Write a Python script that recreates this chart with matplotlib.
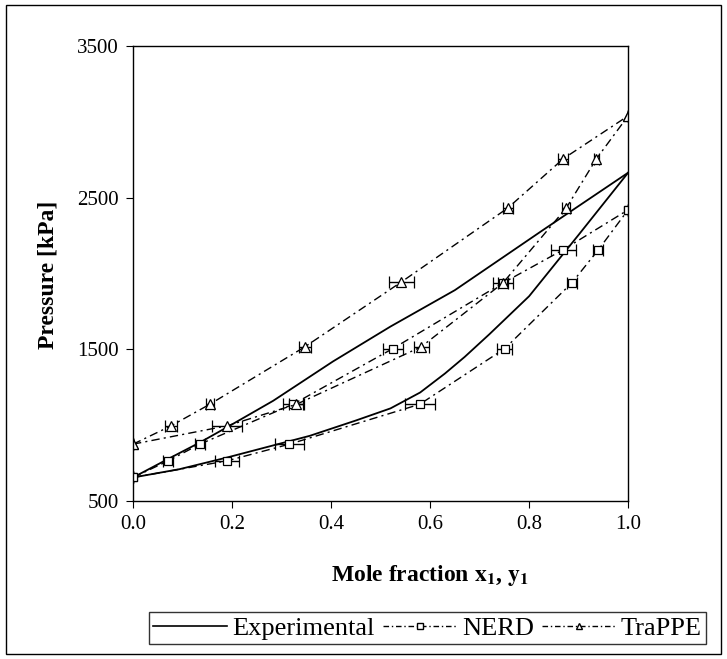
import matplotlib
matplotlib.use("Agg")
import matplotlib.pyplot as plt
from matplotlib.lines import Line2D
from matplotlib.patches import Rectangle

plt.rcParams['font.family'] = ['Liberation Serif', 'DejaVu Serif']
plt.rcParams['mathtext.fontset'] = 'stix'

# experimental phase envelope
exp_bub_x = [0.0, 0.07, 0.135, 0.195, 0.283, 0.404, 0.52, 0.65, 0.83, 1.0]
exp_bub_p = [654, 775, 885, 995, 1160, 1420, 1650, 1890, 2291, 2665]
exp_dew_x = [0.0, 0.094, 0.19, 0.357, 0.45, 0.52, 0.58, 0.63, 0.67, 0.72, 0.80, 0.90, 1.0]
exp_dew_p = [654, 709, 786, 929, 1030, 1110, 1215, 1340, 1450, 1600, 1850, 2255, 2665]

# NERD simulations
nerd_bub_x = [0.0, 0.071, 0.135, 0.323, 0.525, 0.747, 0.869, 1.0]
nerd_bub_p = [654, 764, 874, 1137, 1505, 1937, 2157, 2420]
nerd_bub_err = [0, 0.01, 0.01, 0.02, 0.02, 0.02, 0.025, 0]
nerd_dew_x = [0.0, 0.19, 0.316, 0.579, 0.751, 0.886, 0.94, 1.0]
nerd_dew_p = [654, 764, 874, 1137, 1505, 1937, 2157, 2420]
nerd_dew_err = [0, 0.025, 0.03, 0.03, 0.015, 0.01, 0.01, 0]

# TraPPE simulations
trappe_bub_x = [0.0, 0.077, 0.155, 0.347, 0.542, 0.757, 0.869, 1.0]
trappe_bub_p = [874, 995, 1137, 1516, 1944, 2432, 2757, 3040]
trappe_bub_err = [0, 0.012, 0.008, 0.012, 0.025, 0.01, 0.01, 0]
trappe_dew_x = [0.0, 0.19, 0.33, 0.582, 0.747, 0.875, 0.936, 1.0]
trappe_dew_p = [874, 995, 1137, 1516, 1937, 2432, 2757, 3040]
trappe_dew_err = [0, 0.03, 0.015, 0.015, 0.01, 0.008, 0.005, 0]

dd = (6, 3, 1.5, 3)

fig = plt.figure(figsize=(7.27, 6.59), dpi=100)
ax = fig.add_axes([0.183, 0.240, 0.681, 0.690])

ax.plot(exp_bub_x, exp_bub_p, color='k', lw=1.3)
ax.plot(exp_dew_x, exp_dew_p, color='k', lw=1.3)

for x, p, e in [(nerd_bub_x, nerd_bub_p, nerd_bub_err), (nerd_dew_x, nerd_dew_p, nerd_dew_err)]:
    ax.errorbar(x, p, xerr=e, color='k', lw=1, dashes=dd, marker='s', ms=6,
                mfc='white', mec='k', mew=0.9, ecolor='k', elinewidth=1, capsize=4)
for x, p, e in [(trappe_bub_x, trappe_bub_p, trappe_bub_err), (trappe_dew_x, trappe_dew_p, trappe_dew_err)]:
    ax.errorbar(x, p, xerr=e, color='k', lw=1, dashes=dd, marker='^', ms=7,
                mfc='white', mec='k', mew=0.9, ecolor='k', elinewidth=1, capsize=4)

ax.set_xlim(0, 1)
ax.set_ylim(500, 3500)
ax.set_xticks([0, 0.2, 0.4, 0.6, 0.8, 1.0])
ax.set_xticklabels(['0.0', '0.2', '0.4', '0.6', '0.8', '1.0'])
ax.set_yticks([500, 1500, 2500, 3500])
ax.tick_params(axis='both', labelsize=15, direction='out', length=5, pad=5)
for s in ax.spines.values():
    s.set_linewidth(1)

fig.text(0.066, 0.583, 'Pressure [kPa]', rotation=90, ha='center', va='center',
         fontsize=17, fontweight='bold')
fig.text(0.591, 0.127, 'Mole fraction $\\mathbf{x_1}$, $\\mathbf{y_1}$', ha='center', va='center',
         fontsize=17, fontweight='bold')

handles = [
    Line2D([], [], color='k', lw=1.2),
    Line2D([], [], color='k', lw=1, dashes=(4, 2, 1, 2), marker='s', ms=5, mfc='white', mec='k'),
    Line2D([], [], color='k', lw=1, dashes=(4, 2, 1, 2), marker='^', ms=5, mfc='white', mec='k'),
]
leg = fig.legend(handles, ['Experimental', 'NERD', 'TraPPE'], loc='center',
                 bbox_to_anchor=(0.588, 0.047), ncol=3, fontsize=19, frameon=True,
                 fancybox=False, edgecolor='k', handlelength=2.8, handletextpad=0.2,
                 columnspacing=0.3, borderpad=0.15, borderaxespad=0, numpoints=1)
leg.get_frame().set_linewidth(1)

fig.patches.append(Rectangle((0.008, 0.008), 0.984, 0.984, transform=fig.transFigure,
                             fill=False, edgecolor='k', lw=1))

fig.savefig('out.png', dpi=100)
